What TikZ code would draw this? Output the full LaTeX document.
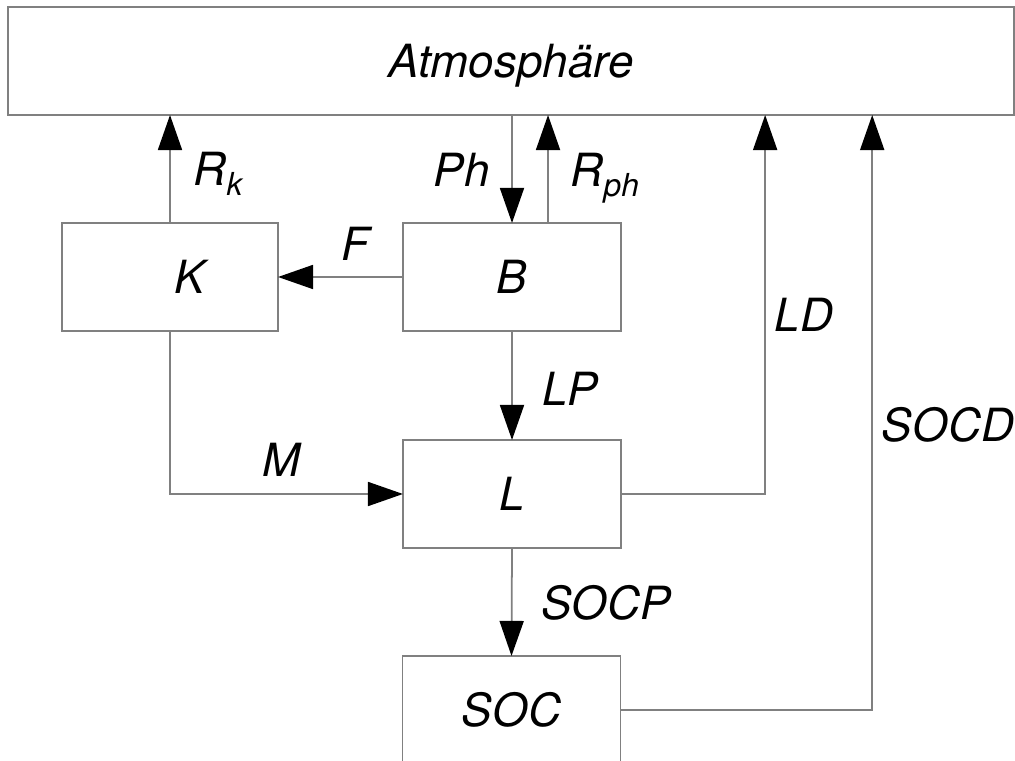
\documentclass[tikz,border=0pt]{standalone}
\usepackage{fontspec}
\setmainfont{TeX Gyre Heros}
\usetikzlibrary{arrows.meta}

\newcommand{\lowidx}[1]{\raisebox{-0.9mm}{\fontsize{9}{10}\selectfont #1}}

\begin{document}
\begin{tikzpicture}[
	x=0.01cm, y=-0.01cm,
	font=\fontsize{13}{15}\selectfont\itshape,
	box/.style={
		draw=black!50, line width=0.5pt, rectangle, outer sep=0pt,
		minimum width=2.18cm, minimum height=1.08cm, inner sep=0pt
	},
	arr/.style={draw=black!50, line width=0.5pt,
		-{Triangle[length=3.5mm, width=2.4mm, color=black]}},
	lbl/.style={inner sep=0pt},
	]
	\useasboundingbox (0,0) rectangle (1015,761);
	
	\node[box, minimum width=10.06cm, text depth=0pt] (atm) at (511,61) {Atmosphäre};
	\node[box, minimum width=2.16cm] (K) at (170,277) {\hspace*{4mm}K};
	\node[box] (B)   at (512,277) {B};
	\node[box] (L)   at (512,494) {L};
	\node[box] (SOC) at (511.5,710) {SOC};
	
	\coordinate (rph) at ([xshift=3.6mm]B.north);
	
	\draw[arr] (K.north) -- (K.north |- atm.south);
	\draw[arr] (atm.south -| B.north) -- (B.north);
	\draw[arr] (rph) -- (rph |- atm.south);
	\draw[arr] (B.west) -- (K.east);
	\draw[arr] (B.south) -- (L.north);
	\draw[arr] (K.south) |- (L.west);
	\draw[arr] (L.east) -| ([xshift=2.54cm]atm.south);
	\draw[arr] (L.south) -- (SOC.north);
	\draw[arr] (SOC.east) -| ([xshift=3.61cm]atm.south);
	
	\node[lbl, anchor=base west] (rklbl)  at (193,186) {R\lowidx{k}};
	\node[lbl, anchor=base west] (phlbl)  at (433,187) {Ph};
	\node[lbl, anchor=base west] (rphlbl) at (570,187) {R\lowidx{ph}};
	\node[lbl] (flbl)    at (355,244) {F};
	\node[lbl] (lplbl)   at (570,389) {LP};
	\node[lbl] (mlbl)    at (282,460) {M};
	\node[lbl] (ldlbl)   at (804,315) {LD};
	\node[lbl] (socdlbl) at (948,425) {SOCD};
	\node[lbl] (socplbl) at (606,603) {SOCP};
	
\end{tikzpicture}
\end{document}
